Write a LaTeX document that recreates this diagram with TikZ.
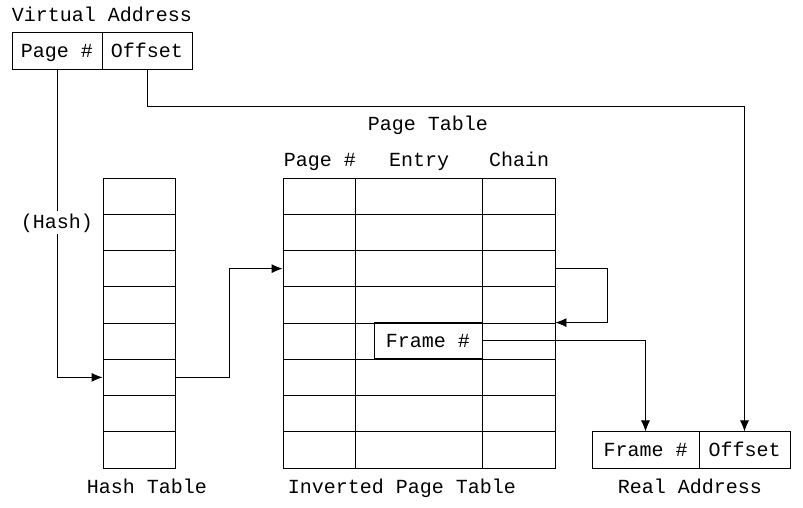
\documentclass[tikz,border=0pt]{standalone}
\usepackage{fontspec}
\setmainfont{Liberation Mono}
\usetikzlibrary{arrows.meta, positioning}
\tikzset{
  cell/.style={draw=black, line width=0.8pt, minimum height=36.25pt, inner sep=0pt},
  lbl/.style={font=\fontsize{20}{24}\selectfont, inner sep=1pt, text height=17pt, text depth=4pt},
  arrow/.style={-{Latex[length=11pt,width=9pt]}, line width=0.8pt},
}
\begin{document}
\begin{tikzpicture}[x=1pt, y=-1pt]
\useasboundingbox (0,0) rectangle (803,507);
% virtual address
\node[cell, lbl, minimum width=90pt] (va-page) at (57,51) {Page \#};
\node[cell, lbl, minimum width=90pt] (va-off) at (147,51) {Offset};
\node[lbl] (va-lbl) at (102,15) {Virtual Address};
% hash table
\foreach \i in {1,...,8}
  \node[cell, minimum width=72pt] (hash-\i) at (139,{178+36.25*(\i-0.5)}) {};
\node[lbl] (hash-lbl) at (147,487) {Hash Table};
% inverted page table
\foreach \i in {1,...,8} {
  \node[cell, minimum width=72pt] (pt-\i-1) at (319,{178+36.25*(\i-0.5)}) {};
  \node[cell, minimum width=127pt] (pt-\i-2) at (418.5,{178+36.25*(\i-0.5)}) {};
  \node[cell, minimum width=73pt] (pt-\i-3) at (518.5,{178+36.25*(\i-0.5)}) {};
}
\node[cell, lbl, minimum width=108pt] (frame) at (428,340.75) {Frame \#};
\node[lbl] (pt-title) at (428,124) {Page Table};
\node[lbl] (pt-h1) at (320,160) {Page \#};
\node[lbl] (pt-h2) at (419,160) {Entry};
\node[lbl] (pt-h3) at (519,160) {Chain};
\node[lbl] (ipt-lbl) at (402,487) {Inverted Page Table};
% real address
\node[cell, lbl, minimum width=107pt] (ra-frame) at (645.5,450) {Frame \#};
\node[cell, lbl, minimum width=91pt] (ra-off) at (744.5,450) {Offset};
\node[lbl] (ra-lbl) at (690,487) {Real Address};
% connectors
\draw[arrow] (va-page.south) |- node[lbl, pos=0.248, fill=white] {(Hash)} (hash-6.west);
\draw[arrow] (va-off.south) -- ++(0,37) -| (ra-off.north);
\draw[arrow] (hash-6.east) -- ++(54,0) |- (pt-3-1.west);
\draw[arrow] (pt-3-3.east) -- ++(52,0) |- (pt-5-3.north east);
\draw[arrow] (frame.east) -| (ra-frame.north);
\end{tikzpicture}
\end{document}
